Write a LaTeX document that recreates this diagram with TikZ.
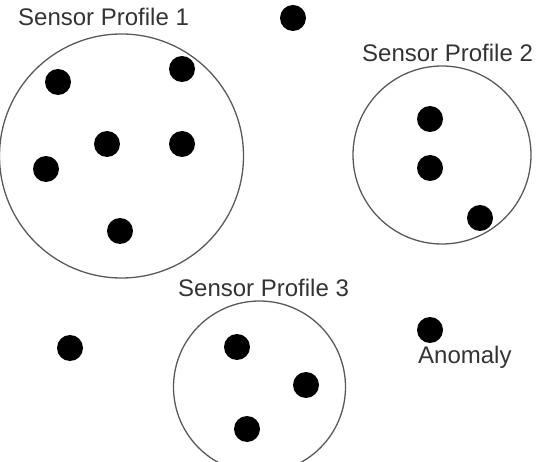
\documentclass[tikz,border=0pt]{standalone}
\usepackage{fontspec}
\setmainfont{Liberation Sans}
\begin{document}
\begin{tikzpicture}[x=1pt,y=-1pt,
  dot/.style={circle,fill=black,draw=none,minimum size=26pt,inner sep=0pt},
  profile/.style={circle,draw=black!65,line width=1.3pt,inner sep=0pt},
  lbl/.style={anchor=base west,inner sep=0pt,text=black!80,font=\fontsize{24}{28}\selectfont}]
\useasboundingbox (0,0) rectangle (538,462);
% profile circles
\node[profile,minimum size=244pt] (p1) at (121.5,156) {};
\node[profile,minimum size=178pt] (p2) at (442,155) {};
\node[profile,minimum size=172pt] (p3) at (259.5,387) {};
% labels
\node[lbl] (l1) at (18,26) {Sensor Profile 1};
\node[lbl] (l2) at (362,62) {Sensor Profile 2};
\node[lbl] (l3) at (178,297) {Sensor Profile 3};
\node[lbl] (la) at (418,363) {Anomaly};
% dots
\node[dot] (d1) at (58,82) {};
\node[dot] (d2) at (182,69) {};
\node[dot] (d3) at (107,144) {};
\node[dot] (d4) at (182,144) {};
\node[dot] (d5) at (46,169) {};
\node[dot] (d6) at (120,231) {};
\node[dot] (d7) at (430,119) {};
\node[dot] (d8) at (430,168) {};
\node[dot] (d9) at (480,218) {};
\node[dot] (d10) at (237,347) {};
\node[dot] (d11) at (306,385) {};
\node[dot] (d12) at (247,429) {};
\node[dot] (d13) at (430,330) {};
\node[dot] (d14) at (293,18) {};
\node[dot] (d15) at (70,348) {};
\end{tikzpicture}
\end{document}
